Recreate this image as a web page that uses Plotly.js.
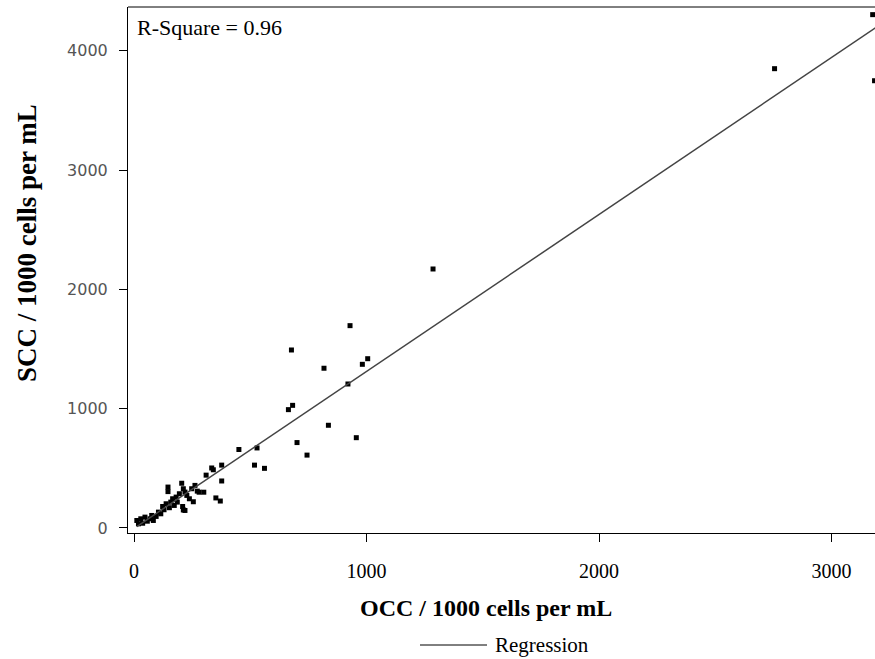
<!DOCTYPE html>
<html>
<head>
<meta charset="utf-8">
<script src="https://cdn.plot.ly/plotly-3.0.1.min.js"></script>
<style>html,body{margin:0;padding:0;background:#fff;}#chart{width:875px;height:659px;}</style>
</head>
<body>
<div id="chart"></div>
<script>
// Observed cell counts (OCC) vs somatic cell counts (SCC), in 1000 cells per mL
var occ = [12,19,29,37,47,57,69,76,83,95,105,115,123,129,138,146,146,152,158,166,173,181,186,195,205,212,219,227,209,219,238,248,262,272,280,300,255,212,
           310,334,341,377,377,352,371,451,529,518,561,701,744,664,682,677,817,836,920,956,929,982,1005,1286,2755,3177,3185];
var scc = [63,35,77,40,91,57,77,105,63,97,133,119,180,153,203,343,305,170,217,245,189,259,217,287,375,329,301,273,180,147,245,329,357,309,300,300,220,151,
           443,503,488,527,394,252,226,658,671,527,500,716,611,992,1028,1492,1339,861,1207,757,1696,1372,1419,2171,3850,4303,3749];
// Regression line end points
var regX = [12, 3250];
var regY = [12, 4273];
var rSquareText = "R-Square = 0.96";
var xTicks = [0, 1000, 2000, 3000];
var yTicks = [0, 1000, 2000, 3000, 4000];

var L = 128, T = 7, B = 533, W = 875, H = 659;
function px(x){ return (x - L) / (W - L); }
function py(y){ return (B - y) / (B - T); }

var traces = [
  {x: occ, y: scc, type: 'scatter', mode: 'markers', name: 'Data', showlegend: false,
   marker: {symbol: 'square', size: 5, color: '#000', line: {width: 0}}, cliponaxis: true},
  {x: regX, y: regY, type: 'scatter', mode: 'lines', name: 'Regression', showlegend: false,
   line: {color: '#444', width: 1.5}}
];

var layout = {
  width: W, height: H,
  margin: {l: L, r: 0, t: T, b: H - B, pad: 0},
  paper_bgcolor: '#fff', plot_bgcolor: '#fff',
  showlegend: false,
  xaxis: {range: [-26, 3187], tickvals: xTicks, ticktext: xTicks.map(String),
          ticks: 'outside', ticklen: 8, tickcolor: '#000', tickwidth: 1,
          showline: true, linecolor: '#000', linewidth: 1, showgrid: false, zeroline: false,
          tickfont: {family: 'Liberation Serif', size: 20, color: '#000'}, ticklabelstandoff: 12},
  yaxis: {range: [-42, 4367], tickvals: yTicks, ticktext: yTicks.map(String),
          ticks: 'outside', ticklen: 8, tickcolor: '#000', tickwidth: 1,
          showline: true, linecolor: '#000', linewidth: 1, showgrid: false, zeroline: false,
          tickfont: {family: 'DejaVu Sans', size: 16, color: '#555'}, ticklabelstandoff: 8},
  shapes: [
    {type: 'line', xref: 'paper', yref: 'paper', x0: 0, x1: 1, y0: 1, y1: 1, line: {color: '#000', width: 1}},
    {type: 'line', xref: 'paper', yref: 'paper', x0: px(420), x1: px(487), y0: py(645), y1: py(645), line: {color: '#000', width: 1}}
  ],
  annotations: [
    {text: rSquareText, xref: 'paper', yref: 'paper', x: px(135), y: py(28), xanchor: 'left', yanchor: 'middle',
     showarrow: false, font: {family: 'Liberation Serif', size: 22, color: '#000'}},
    {text: '<b>OCC / 1000 cells per mL</b>', xref: 'paper', yref: 'paper', x: px(486), y: py(608),
     xanchor: 'center', yanchor: 'middle', showarrow: false, font: {family: 'Liberation Serif', size: 24, color: '#000'}},
    {text: '<b>SCC / 1000 cells per mL</b>', xref: 'paper', yref: 'paper', x: px(27), y: py(243), textangle: -90,
     xanchor: 'center', yanchor: 'middle', showarrow: false, font: {family: 'Liberation Serif', size: 27, color: '#000'}},
    {text: 'Regression', xref: 'paper', yref: 'paper', x: px(493), y: py(645), xanchor: 'left', yanchor: 'middle',
     showarrow: false, font: {family: 'Liberation Serif', size: 21, color: '#000'}}
  ]
};

Plotly.newPlot('chart', traces, layout, {displayModeBar: false, staticPlot: true});
</script>
</body>
</html>
